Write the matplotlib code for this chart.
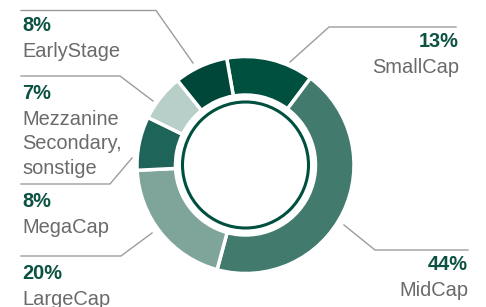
import matplotlib
matplotlib.use("Agg")
import matplotlib.pyplot as plt

# ---- data ----
categories = ["SmallCap", "MidCap", "LargeCap", "MegaCap",
              "Mezzanine\nSecondary,\nsonstige", "EarlyStage"]
values = [13, 44, 20, 8, 7, 8]
pct_labels = ["13%", "44%", "20%", "8%", "7%", "8%"]

# ---- style ----
colors = ["#00503F", "#427A6E", "#7FA59B", "#1F6459", "#B8CEC8", "#00473A"]
pct_color = "#0B5243"
label_color = "#6A6A6A"
line_color = "#9C9C9C"
W, H = 486, 307
plt.rcParams['font.family'] = ['Liberation Sans', 'DejaVu Sans']

fig = plt.figure(figsize=(W / 100, H / 100), dpi=100)
ax = fig.add_axes([0, 0, 1, 1])

def Y(y):
    return H - y

cx, cy = 245.5, 165.0
r_out, r_in, r_ring = 108.5, 70.0, 63.0

ax.pie(values, colors=colors, startangle=100, counterclock=False,
       radius=r_out, center=(cx, Y(cy)),
       wedgeprops=dict(width=r_out - r_in, edgecolor="white", linewidth=2.5))
ring = plt.Circle((cx, Y(cy)), r_ring, fill=False, edgecolor="#00503F", linewidth=2.2)
ax.add_patch(ring)

ax.set_xlim(0, W)
ax.set_ylim(0, H)
ax.set_aspect("equal")
ax.axis("off")

# label layout: (x, baseline of pct, align, leader polyline)
layout = {
    "SmallCap": (459, 47, "right", [(456, 27), (329, 27), (290, 62)]),
    "MidCap": (468, 270, "right", [(344, 225), (375, 250), (468, 250)]),
    "LargeCap": (22, 279, "left", [(21, 256), (121, 256), (152, 233)]),
    "MegaCap": (22, 207, "left", [(21, 184), (110, 184), (132, 158)]),
    "Mezzanine\nSecondary,\nsonstige": (22, 99, "left", [(21, 76), (120, 76), (153, 101)]),
    "EarlyStage": (22, 31, "left", [(21, 10.5), (156, 10.5), (193, 63)]),
}
fs = 14.4
lh = 25
for cat, pct in zip(categories, pct_labels):
    x, yb, ha, pts = layout[cat]
    ax.plot([p[0] for p in pts], [Y(p[1]) for p in pts], color=line_color,
            linewidth=1.0, solid_joinstyle="miter")
    ax.text(x, Y(yb), pct, ha=ha, va="baseline", fontsize=fs,
            fontweight="bold", color=pct_color)
    for i, line in enumerate(cat.split("\n")):
        ax.text(x, Y(yb + lh * (i + 1) + (1 if i == 0 else 0)), line, ha=ha,
                va="baseline", fontsize=fs, color=label_color)

fig.savefig("out.png", dpi=100)
